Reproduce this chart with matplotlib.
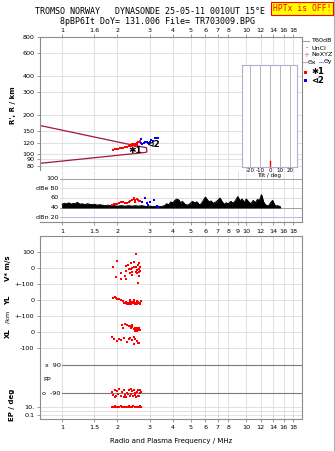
import numpy as np
import matplotlib
matplotlib.use('Agg')
import matplotlib.pyplot as plt
from matplotlib.lines import Line2D
from matplotlib.patches import Rectangle
from matplotlib.ticker import NullLocator
from matplotlib.transforms import blended_transform_factory

# --- data ---
model_f = [0.76, 2.44, 2.70, 2.88, 2.89, 2.83, 0.76]
model_h = [165, 116, 113, 111, 103, 102, 84]

o1_f = [1.90, 1.94, 1.98, 2.02, 2.06, 2.10, 2.15, 2.20, 2.25, 2.30, 2.34, 2.38,
        2.42, 2.46, 2.50, 2.54, 2.57, 2.60, 2.62, 2.65, 2.48, 2.55, 2.40, 2.58]
o1_h = [106, 108, 108, 109, 110, 111, 111, 112, 113, 114, 116, 115,
        117, 118, 119, 118, 121, 122, 124, 126, 115, 116, 119, 113]
o2_f = [2.68, 2.70, 2.73, 2.78, 2.84, 2.90, 2.95, 3.00, 3.06, 3.12, 3.20, 3.27, 3.32]
o2_h = [129, 120, 118, 121, 123, 122, 120, 124, 127, 125, 131, 133, 132]

noise_f = [1.00, 1.03, 1.06, 1.09, 1.12, 1.15, 1.18, 1.21, 1.25, 1.29,
           1.33, 1.37, 1.41, 1.45, 1.50, 1.55, 1.60, 1.66, 1.72, 1.78,
           1.85, 1.92, 2.00, 2.10, 2.20, 2.30, 2.40, 2.50, 2.60, 2.70,
           2.80, 2.90, 3.00, 3.15, 3.30, 3.45, 3.60, 3.70, 3.80, 3.90,
           4.00, 4.10, 4.20, 4.30, 4.40, 4.50, 4.65, 4.80, 4.95, 5.10,
           5.25, 5.40, 5.55, 5.70, 5.85, 6.00, 6.15, 6.30, 6.45, 6.60,
           6.80, 7.00, 7.20, 7.40, 7.60, 7.80, 8.00, 8.25, 8.50, 8.75,
           9.00, 9.25, 9.50, 9.75, 10.0, 10.3, 10.6, 10.9, 11.2, 11.5,
           11.8, 12.1, 12.4, 12.7, 13.0, 13.3, 13.6, 13.9, 14.2, 14.5,
           14.8, 15.1, 15.3]
noise_db = [47, 49, 48, 50, 47, 49, 48, 51, 47, 48,
            46, 48, 47, 46, 47, 45, 46, 45, 44, 45,
            44, 44, 43, 44, 43, 44, 43, 44, 43, 44,
            43, 42, 43, 42, 43, 42, 44, 48, 46, 52,
            50, 55, 58, 56, 50, 53, 47, 45, 48, 53,
            50, 52, 46, 48, 55, 62, 56, 52, 54, 49,
            51, 55, 60, 52, 47, 50, 48, 53, 49, 55,
            63, 54, 58, 50, 58, 52, 48, 55, 50, 57,
            55, 67, 52, 46, 44, 45, 51, 55, 47, 43,
            44, 43, 42]

a1_f = [1.88, 1.92, 1.96, 2.00, 2.05, 2.10, 2.15, 2.20, 2.25, 2.30, 2.35, 2.40,
        2.45, 2.50, 2.55, 2.60, 2.62, 2.65, 2.50, 2.45]
a1_db = [46, 47, 47, 48, 49, 51, 52, 49, 50, 51, 53, 56, 57, 55, 58, 56, 53, 54, 52, 59]
a2_f = [2.71, 2.83, 2.88, 2.94, 2.99, 3.16, 3.30, 3.34]
a2_db = [51, 59, 50, 45, 51, 56, 43, 41]

v_f = [2.00, 1.90, 1.96, 2.08, 2.10, 2.20, 2.22, 2.22, 2.24, 2.32, 2.35, 2.37, 2.39,
       2.41, 2.45, 2.52, 2.53, 2.55, 2.57, 2.59, 2.61, 2.61, 2.63, 2.64, 2.59, 2.53,
       2.45, 2.41, 2.28, 2.37, 2.63, 2.66]
v_val = [47, 10, -52, -69, -31, -48, -69, 14, -17, -6, -31, 31, -1,
         -22, 37, 89, 10, -10, -31, 20, -6, -20, 31, 6, -90, -22,
         10, -41, 20, -6, -48, -14]

yl_f = [1.90, 1.93, 1.97, 2.00, 2.04, 2.08, 2.15, 2.18, 2.22, 2.25, 2.28, 2.32, 2.35,
        2.38, 2.42, 2.45, 2.48, 2.52, 2.55, 2.58, 2.62, 2.65, 2.68, 2.20, 2.30, 2.40,
        2.50, 2.60, 2.66, 2.35, 2.45, 2.55]
yl_val = [12, 18, 15, 10, 8, 5, -2, -18, -10, -22, -15, -20, -8,
          -22, -18, -12, -22, -15, -20, -8, -18, -22, -5, -15, -22, -10,
          -20, -14, -18, 0, 2, -2]

xl_f = [2.12, 2.14, 2.20, 2.25, 2.33, 2.38, 2.41, 2.45, 2.49, 2.52, 2.55, 2.57,
        2.59, 2.61, 2.63, 2.50, 2.56, 2.65, 2.40, 2.30,
        1.88, 1.92, 1.98, 2.05, 2.10, 2.18, 2.25, 2.30, 2.35, 2.40, 2.45, 2.50,
        2.55, 2.60, 2.62, 2.45]
xl_val = [45, 30, 52, 45, 40, 30, 45, 20, 30, 15, 30, 10, 20, 15, 25, 10, 5, 15, 35, 40,
          -32, -45, -55, -40, -50, -38, -60, -45, -35, -50, -28, -42, -55, -70, -65, -75]

pp_f = [1.88, 1.90, 1.93, 1.97, 2.00, 2.02, 2.08, 2.12, 2.16, 2.20, 2.22, 2.26, 2.30,
        2.33, 2.36, 2.40, 2.43, 2.46, 2.50, 2.53, 2.56, 2.60, 2.63, 2.66, 2.68,
        1.95, 2.05, 2.18, 2.28, 2.38, 2.48, 2.58, 2.65]
pp_val = [-85, -100, -70, -110, -75, -95, -105, -80, -72, -100, -112, -88, -70,
          -108, -95, -78, -110, -70, -98, -115, -85, -72, -105, -90, -80,
          -115, -65, -112, -95, -65, -88, -110, -68]

ep_f = [1.88, 1.91, 1.94, 1.97, 2.00, 2.04, 2.08, 2.12, 2.16, 2.20, 2.24, 2.28, 2.32,
        2.36, 2.40, 2.44, 2.48, 2.52, 2.55, 2.58, 2.61, 2.64, 2.67, 2.69, 2.30, 2.50]
ep_val = [12, 9, 14, 10, 8, 11, 13, 9, 10, 12, 8, 11, 15,
          9, 10, 13, 9, 11, 8, 12, 10, 14, 9, 11, 10, 12]

freq_ticks = [1, 1.5, 2, 3, 4, 5, 6, 7, 8, 10, 12, 14, 16, 18]
top_labels = ['1', '1.6', '2', '3', '4', '5', '6', '7', '8', '10', '12', '14', '16', '18']
mid_ticks = [1, 1.5, 2, 3, 4, 5, 6, 7, 8, 9, 10, 12, 14, 16, 18]
h_ticks = [80, 90, 100, 120, 150, 200, 300, 400, 600, 800]

W, H = 335, 451
GRID = '#dcdcdc'
SPINE = '#8c8c8c'
DARK = '#7a7a7a'
MAROON = '#a3143f'
FMIN, FMAX = 0.76, 20.1


def box(l, t, r, b):
    return [l / W, 1 - b / H, (r - l) / W, (b - t) / H]


def px(x, y):
    return x / W, 1 - y / H


def freq_axis(ax, ticks, labels):
    ax.set_xscale('log')
    ax.set_xlim(FMIN, FMAX)
    ax.set_xticks(ticks, labels)
    ax.xaxis.set_minor_locator(NullLocator())
    for f in ticks:
        ax.axvline(f, color=GRID, lw=0.6, zorder=0)
    for s in ax.spines.values():
        s.set_color(SPINE)
        s.set_linewidth(0.8)
    ax.tick_params(labelsize=4.6, length=2.5, width=0.6, color=SPINE, pad=1.5)


fig = plt.figure(figsize=(3.35, 4.51), dpi=100)

# title
fig.text(*px(150, 12), 'TROMSO NORWAY   DYNASONDE 25-05-11 0010UT 15°E',
         family='DejaVu Sans Mono', fontsize=6.0, ha='center', va='center')
fig.text(*px(158, 21), '8pBP6It DoY= 131.006 File= TR703009.BPG',
         family='DejaVu Sans Mono', fontsize=6.0, ha='center', va='center')
fig.text(*px(302, 8.5), 'HPTx is OFF!', family='DejaVu Sans Mono', fontsize=5.8,
         color='red', ha='center', va='center',
         bbox=dict(boxstyle='square,pad=0.2', fc='#ffff00', ec='red', lw=0.8))

# --- virtual height panel ---
ax1 = fig.add_axes(box(40, 37, 302, 170))
freq_axis(ax1, freq_ticks, top_labels)
ax1.xaxis.tick_top()
ax1.tick_params(axis='x', length=2, pad=1)
ax1.set_yscale('log')
ax1.set_ylim(74.6, 800)
ax1.set_yticks(h_ticks, [str(t) for t in h_ticks])
ax1.yaxis.set_minor_locator(NullLocator())
ax1.spines['bottom'].set_visible(False)
for h in h_ticks:
    ax1.axhline(h, color=GRID, lw=0.6, zorder=0)
ax1.plot(model_f, model_h, color=MAROON, lw=0.9)
ax1.plot(o1_f, o1_h, 's', ms=1.7, mew=0, color='red')
ax1.plot(o2_f, o2_h, 's', ms=1.7, mew=0, color='blue')
ax1.text(2.5, 105, '✱1', fontsize=6.5, ha='center', va='center', fontweight='bold')
ax1.text(3.1, 118, '⊲2', fontsize=6.5, ha='center', va='center', fontweight='bold')
fig.text(*px(13, 105), "R', R / km", rotation=90, fontsize=5, fontweight='bold',
         ha='center', va='center')

# --- amplitude panel ---
ax2 = fig.add_axes(box(40, 171, 302, 222))
ax2.patch.set_alpha(0)
freq_axis(ax2, mid_ticks, [str(t) for t in mid_ticks])
ax2.tick_params(axis='x', pad=2.5)
ax2.set_ylim(9.7, 116.4)
ax2.set_yticks([])
ax2.spines['left'].set_visible(False)
ax2.spines['top'].set_visible(False)
db_ticks = [20, 40, 60, 80, 100]
db_labels = ['dBn 20', '40', '60', 'dBe 80', '100']
db_colors = ['#b8b8ee', '#a0a0a0', GRID, GRID, '#a0a0a0']
tr = blended_transform_factory(ax2.transAxes, ax2.transData)
for t, lab, c in zip(db_ticks, db_labels, db_colors):
    ax2.plot([0.97, FMAX], [t, t], color=c, lw=0.7, zorder=0)
    ax2.text(0.07, t, lab, transform=tr, fontsize=4.6, ha='right', va='center')
ax2.fill_between(noise_f, 40, noise_db, color='black', lw=0.6)
ax2.plot(noise_f, noise_db, color='black', lw=0.6)
ax2.plot(a1_f, a1_db, 's', ms=1.7, mew=0, color='red')
ax2.plot(a2_f, a2_db, 's', ms=1.7, mew=0, color='blue')

# tilt inset (drawn above the amplitude panel so its labels show)
axi = fig.add_axes(box(242, 65, 297, 167))
axi.set_zorder(5)
axi.set_xlim(-28, 27)
axi.set_ylim(0, 1)
axi.set_facecolor('white')
for s in axi.spines.values():
    s.set_color('#b0b0cc')
    s.set_linewidth(0.8)
for t in [-20, -10, 0, 10, 20]:
    axi.axvline(t, color='#a8a8a8', lw=0.6)
axi.plot([0, 0], [0, 0.06], color='red', lw=1.0)
axi.set_yticks([])
axi.set_xticks([-20, -10, 0, 10, 20], ['-20', '-10', '0', '10', '20'])
axi.tick_params(axis='x', length=0, labelsize=4.0, pad=0.8)
axi.set_xlabel('Tilt / deg', fontsize=4.0, labelpad=0)

# legend
lx = 303
fig.add_artist(Line2D([lx / W, (lx + 6) / W], [1 - 41 / H] * 2, color='#a0a0a0', lw=0.8))
fig.text(*px(311, 41), 'T60dB', fontsize=4.6, va='center')
fig.text(*px(306, 48), '·', fontsize=5, va='center', ha='center')
fig.text(*px(311, 48), 'UnCl', fontsize=4.6, va='center')
fig.text(*px(306, 55), '+', fontsize=5, va='center', ha='center', color='#e06080')
fig.text(*px(311, 55), 'NeXYZ', fontsize=4.6, va='center')
fig.add_artist(Line2D([lx / W, (lx + 4) / W], [1 - 62 / H] * 2, color='#f0a0a0', lw=0.8))
fig.text(*px(308, 62), 'Θx', fontsize=4.4, va='center')
fig.add_artist(Line2D([319 / W, 323 / W], [1 - 62 / H] * 2, color='#a0a0f0', lw=0.8))
fig.text(*px(324, 62), 'Θy', fontsize=4.4, va='center')
fig.add_artist(Rectangle(px(304, 74), 3 / W, 3 / H, color='red', lw=0))
fig.text(*px(311, 72), '✱1', fontsize=6, va='center', fontweight='bold')
fig.add_artist(Rectangle(px(304, 82), 3 / W, 3 / H, color='blue', lw=0))
fig.text(*px(311, 80), '⊲2', fontsize=6, va='center', fontweight='bold')
fig.add_artist(Line2D([333.5 / W] * 2, [0, 1], color='#b0b0b0', lw=0.8))

# --- drift / polarisation panel ---
ax3 = fig.add_axes(box(40, 236, 302, 419))
freq_axis(ax3, freq_ticks, [str(t) for t in freq_ticks])
ax3.set_ylim(-942, 202)
y_pos = [100, 0, -100, -200, -300, -400, -500, -866, -917]
y_lab = ['100', '0', '+-100', '0', '+-100', '0', '-100', '10.', '0.1']
ax3.set_yticks(y_pos, y_lab)
for t in y_pos + [-890]:
    ax3.axhline(t, color=GRID, lw=0.6, zorder=0)
for t, lab in [(-606, 'x  90'), (-781, 'o  -90')]:
    ax3.plot([1.0, FMAX], [t, t], color=DARK, lw=0.8, zorder=1)
    ax3.text(0.985, t, lab, fontsize=4.6, ha='right', va='center')
ax3.text(0.79, -694, 'PP', fontsize=4.6, ha='left', va='center')
ax3.set_xlabel('Radio and Plasma Frequency / MHz', fontsize=5, labelpad=6)

ax3.plot(v_f, v_val, 's', ms=1.7, mew=0, color='red')
ax3.plot(yl_f, np.array(yl_val) - 200, 's', ms=1.7, mew=0, color='red')
ax3.plot(xl_f, np.array(xl_val) - 400, 's', ms=1.7, mew=0, color='red')
ax3.plot(pp_f, -781 + (np.array(pp_val) + 90) * 1.0, 's', ms=1.7, mew=0, color='red')
ax3.plot(ep_f, -866 + np.log10(np.array(ep_val) / 10) * 26.6, 's', ms=1.7, mew=0, color='red')

fig.text(*px(8, 268), 'V* m/s', rotation=90, fontsize=5, fontweight='bold', ha='center', va='center')
fig.text(*px(8, 300), 'YL', rotation=90, fontsize=5, fontweight='bold', ha='center', va='center')
fig.text(*px(8, 317), '/km', rotation=90, fontsize=4.6, ha='center', va='center')
fig.text(*px(8, 333), 'XL', rotation=90, fontsize=5, fontweight='bold', ha='center', va='center')
fig.text(*px(12, 405), 'EP / deg', rotation=90, fontsize=5, fontweight='bold', ha='center', va='center')

fig.savefig('out.png', dpi=100)
